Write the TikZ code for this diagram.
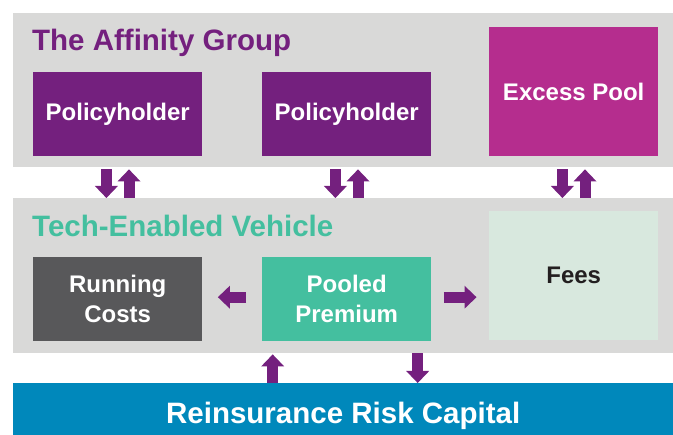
\documentclass[tikz,border=0pt]{standalone}
\usepackage{fontspec}
\setmainfont{Liberation Sans}
\usetikzlibrary{arrows.meta,calc}
\definecolor{panelgray}{HTML}{D9D9D8}
\definecolor{grpurple}{HTML}{74207E}
\definecolor{grmagenta}{HTML}{B52D8E}
\definecolor{grteal}{HTML}{44BF9F}
\definecolor{grdark}{HTML}{58585A}
\definecolor{grfees}{HTML}{D8E8DE}
\definecolor{grblue}{HTML}{0088BB}
\definecolor{grblack}{HTML}{231F20}
\tikzset{
  panel/.style={fill=panelgray, draw=none, anchor=north west, inner sep=0pt, minimum width=660pt},
  box/.style={draw=none, anchor=north west, inner sep=0pt, minimum width=169pt, minimum height=84pt,
    font=\fontsize{24}{30}\selectfont\bfseries, text=white, align=center},
  tallbox/.style={box, minimum height=129pt},
  grtitle/.style={anchor=base west, inner sep=0pt, font=\fontsize{29.5}{30}\selectfont\bfseries},
  blk/.style={draw=grpurple, line width=11pt, -{Triangle[width=23pt,length=12pt,line width=0pt]}},
}
\begin{document}
\begin{tikzpicture}[x=1pt,y=-1pt]
\useasboundingbox (0,0) rectangle (673,435);
% panels
\node[panel, minimum height=154pt] (affinity) at (13,13) {};
\node[panel, minimum height=155pt] (tev) at (13,198) {};
\node[panel, minimum height=52pt, fill=grblue, text=white, font=\fontsize{29.5}{30}\selectfont\bfseries,
      text height=28pt, text depth=0pt] (reins) at (13,383) {Reinsurance Risk Capital};
% titles
\node[grtitle, text=grpurple] (t1) at (32,51) {The Affinity Group};
\node[grtitle, text=grteal] (t2) at (32,237) {Tech-Enabled Vehicle};
% top boxes
\node[box, fill=grpurple] (ph1) at (33,72) {Policyholder};
\node[box, fill=grpurple] (ph2) at (262,72) {Policyholder};
\node[tallbox, fill=grmagenta] (excess) at (489,27) {Excess Pool};
% middle boxes
\node[box, fill=grdark] (rc) at (33,257) {Running\\Costs};
\node[box, fill=grteal] (pp) at (262,257) {Pooled\\Premium};
\node[tallbox, fill=grfees, text=grblack] (fees) at (489,211) {Fees};
% vertical arrow pairs
\foreach \b in {ph1,ph2,excess}{
  \draw[blk, shorten <=2pt] ([xshift=-11.3pt]\b.south |- affinity.south) -- ([xshift=-11.3pt]\b.south |- tev.north);
  \draw[blk, shorten >=2pt] ([xshift=11.3pt]\b.south |- tev.north) -- ([xshift=11.3pt]\b.south |- affinity.south);
}
% horizontal arrows
\draw[blk, shorten <=16pt, shorten >=15.5pt] ([yshift=2pt]pp.west) -- ([yshift=2pt]rc.east);
\draw[blk, shorten <=12.5pt, shorten >=12.5pt] ([yshift=2pt]pp.east) -- ([yshift=2pt]fees.west |- pp.east);
% bottom arrows
\draw[blk, shorten >=1pt] ([xshift=-74pt]pp.south |- reins.north) -- ([xshift=-74pt]pp.south |- tev.south);
\draw[blk] ([xshift=71pt]pp.south |- tev.south) -- ([xshift=71pt]pp.south |- reins.north);
\end{tikzpicture}
\end{document}
